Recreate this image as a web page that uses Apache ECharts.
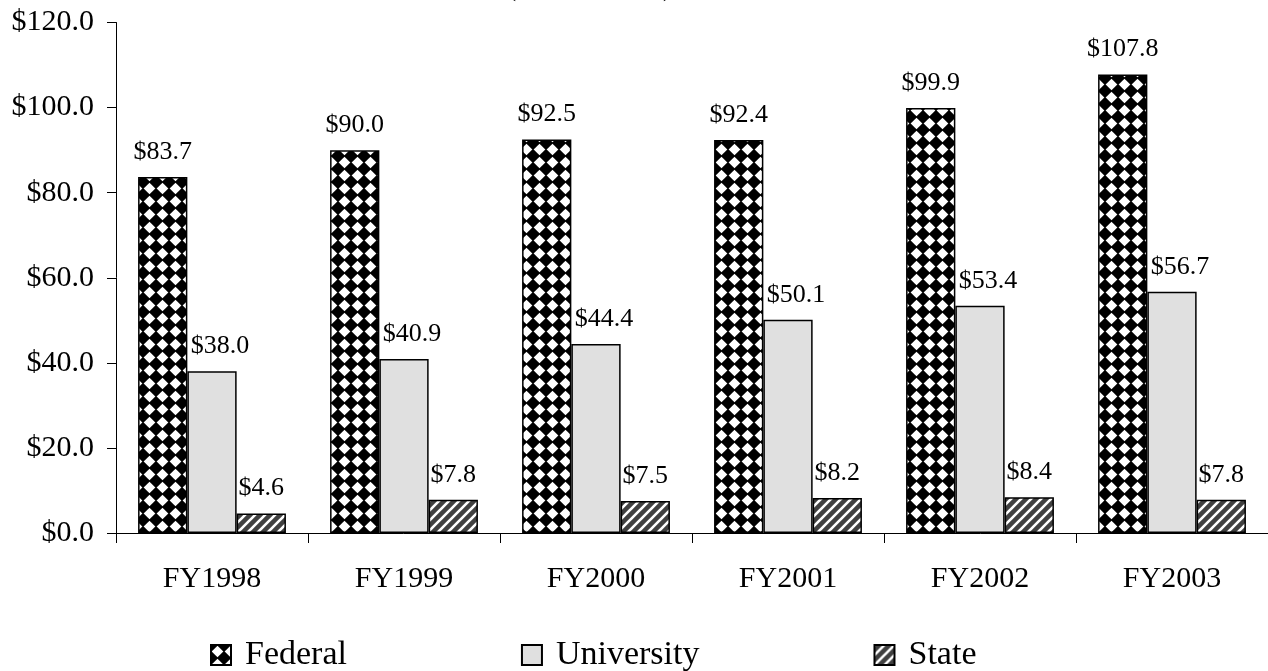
<!DOCTYPE html>
<html>
<head>
<meta charset="utf-8">
<script src="https://cdn.jsdelivr.net/npm/echarts@6/dist/echarts.min.js"></script>
<style>html,body{margin:0;padding:0;background:#fff}#c{width:1268px;height:671px}</style>
</head>
<body>
<div id="c"></div>
<script>
var categories = ['FY1998', 'FY1999', 'FY2000', 'FY2001', 'FY2002', 'FY2003'];
var federal = [83.7, 90.0, 92.5, 92.4, 99.9, 107.8];
var university = [38.0, 40.9, 44.4, 50.1, 53.4, 56.7];
var state = [4.6, 7.8, 7.5, 8.2, 8.4, 7.8];
var yTicks = [0, 20, 40, 60, 80, 100, 120];

function diamondPattern() {
  var p = 13, c = document.createElement('canvas');
  c.width = p; c.height = p;
  var g = c.getContext('2d');
  g.fillStyle = '#000'; g.fillRect(0, 0, p, p);
  g.fillStyle = '#fff';
  var r = p * 0.45, m = p / 2;
  g.beginPath();
  g.moveTo(m, m - r); g.lineTo(m + r, m); g.lineTo(m, m + r); g.lineTo(m - r, m);
  g.closePath(); g.fill();
  return c;
}
function stripePattern() {
  var p = 10, c = document.createElement('canvas');
  c.width = p; c.height = p;
  var g = c.getContext('2d');
  g.fillStyle = '#404040'; g.fillRect(0, 0, p, p);
  g.strokeStyle = '#fff'; g.lineWidth = 2.6;
  g.beginPath();
  g.moveTo(0, p); g.lineTo(p, 0);
  g.moveTo(-p / 2, p / 2); g.lineTo(p / 2, -p / 2);
  g.moveTo(p / 2, p * 1.5); g.lineTo(p * 1.5, p / 2);
  g.stroke();
  return c;
}
var fedFill = { image: diamondPattern(), repeat: 'repeat' };
var stateFill = { image: stripePattern(), repeat: 'repeat' };
var font = 'Liberation Serif';
function money(v) { return '$' + Number(v).toFixed(1); }

var chart = echarts.init(document.getElementById('c'), null, { renderer: 'canvas' });
chart.setOption({
  animation: false,
  backgroundColor: '#fff',
  textStyle: { fontFamily: font, color: '#000' },
  graphic: [{
    type: 'text', left: 505, top: -32,
    style: { text: '(in millions)', font: '34px "Liberation Serif"', fill: '#000' }
  }],
  grid: { left: 116, right: 0, top: 22.5, bottom: 138, containLabel: false },
  legend: {
    left: 205, top: 633,
    itemWidth: 20, itemHeight: 20, itemGap: 174,
    icon: 'rect',
    textStyle: { fontFamily: font, fontSize: 34, color: '#000', padding: [0, 0, 0, 9] },
    data: ['Federal', 'University', 'State']
  },
  xAxis: {
    type: 'category', data: categories,
    axisLine: { lineStyle: { color: '#000', width: 1 } },
    axisTick: { show: true, length: 10, lineStyle: { color: '#000' } },
    axisLabel: { fontFamily: font, fontSize: 30, color: '#000', margin: 31 }
  },
  yAxis: {
    type: 'value', min: 0, max: 120, interval: 20,
    axisLine: { show: true, lineStyle: { color: '#000', width: 1 } },
    axisTick: { show: true, length: 9, lineStyle: { color: '#000' } },
    splitLine: { show: false },
    axisLabel: { fontFamily: font, fontSize: 30, color: '#000', margin: 22,
      formatter: function (v) { return yTicks.indexOf(v) >= 0 ? money(v) : ''; } }
  },
  series: [
    { name: 'Federal', type: 'bar', data: federal, barGap: '0%', barCategoryGap: '23%',
      itemStyle: { color: fedFill, borderColor: '#000', borderWidth: 1.5 },
      label: { show: true, position: 'top', distance: 12, fontFamily: font, fontSize: 26, color: '#000', formatter: function (p) { return money(p.value); } } },
    { name: 'University', type: 'bar', data: university,
      itemStyle: { color: '#e0e0e0', borderColor: '#000', borderWidth: 1.5 },
      label: { show: true, position: 'top', distance: 12, offset: [8, 0], fontFamily: font, fontSize: 26, color: '#000', formatter: function (p) { return money(p.value); } } },
    { name: 'State', type: 'bar', data: state,
      itemStyle: { color: stateFill, borderColor: '#000', borderWidth: 1.5 },
      label: { show: true, position: 'top', distance: 12, fontFamily: font, fontSize: 26, color: '#000', formatter: function (p) { return money(p.value); } } }
  ]
});
</script>
</body>
</html>
